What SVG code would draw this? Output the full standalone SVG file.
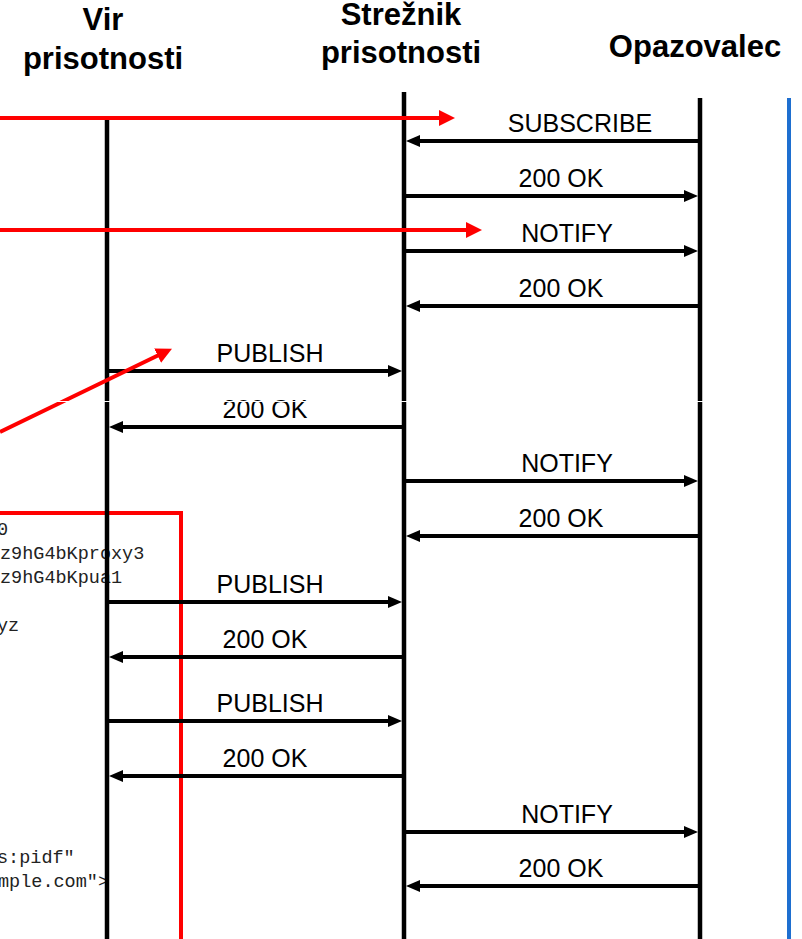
<svg xmlns="http://www.w3.org/2000/svg" width="802" height="939" viewBox="0 0 802 939">
  <style>
    .head { font-family: "Liberation Sans", Arial, sans-serif; font-weight: bold; font-size: 31px; fill: #000; text-anchor: middle; }
    .msg { font-family: "Liberation Sans", Arial, sans-serif; font-size: 25px; fill: #000; text-anchor: middle; }
    .code { font-family: "Liberation Mono", "Courier New", monospace; font-size: 18.5px; fill: #222; }
    .life { stroke: #000; stroke-width: 4.5; fill: none; }
    .arrow { stroke: #000; stroke-width: 4; fill: none; marker-end: url(#ah); }
    .red { stroke: #ff0000; stroke-width: 4; fill: none; }
    .redarrow { stroke: #ff0000; stroke-width: 4; fill: none; marker-end: url(#rh); }
  </style>
  <defs>
    <marker id="ah" viewBox="0 0 14 12" refX="4" refY="6" markerWidth="14" markerHeight="12" markerUnits="userSpaceOnUse" orient="auto">
      <path d="M0,0 L14,6 L0,12 z" fill="#000"/>
    </marker>
    <marker id="rh" viewBox="0 0 16 16" refX="6" refY="8" markerWidth="16" markerHeight="16" markerUnits="userSpaceOnUse" orient="auto">
      <path d="M0,0 L16,8 L0,16 z" fill="#ff0000"/>
    </marker>
  </defs>

  <rect width="802" height="939" fill="#fff"/>

  <!-- request body listing, clipped at the left edge -->
  <g id="listing">
    <polyline class="red" points="0,513 181,513 181,939"/>
    <text class="code" x="-3" y="535">0</text>
    <text class="code" x="0" y="559">z9hG4bKproxy3</text>
    <text class="code" x="0" y="583">z9hG4bKpua1</text>
    <text class="code" x="-3" y="631">yz</text>
    <text class="code" x="-3" y="863">s:pidf"</text>
    <text class="code" x="-2" y="887">mple.com"&gt;</text>
  </g>

  <!-- participants -->
  <g id="vir">
    <text class="head" x="103" y="30">Vir</text>
    <text class="head" x="103" y="69">prisotnosti</text>
    <line class="life" x1="107" y1="119" x2="107" y2="939"/>
  </g>
  <g id="streznik">
    <text class="head" x="401" y="25">Strežnik</text>
    <text class="head" x="401" y="63">prisotnosti</text>
    <line class="life" x1="404" y1="92" x2="404" y2="939"/>
  </g>
  <g id="opazovalec">
    <text class="head" x="695" y="57">Opazovalec</text>
    <line class="life" x1="700" y1="98" x2="700" y2="939"/>
  </g>
  <line x1="789" y1="98" x2="789" y2="939" stroke="#1e6fd0" stroke-width="4"/>

  <!-- messages -->
  <g id="connectors">
    <line class="arrow" x1="700" y1="141" x2="416" y2="141"/>
    <text class="msg" x="580" y="132">SUBSCRIBE</text>
    <line class="arrow" x1="404" y1="196" x2="688" y2="196"/>
    <text class="msg" x="561" y="187">200 OK</text>
    <line class="arrow" x1="404" y1="251" x2="688" y2="251"/>
    <text class="msg" x="567" y="242">NOTIFY</text>
    <line class="arrow" x1="700" y1="306" x2="416" y2="306"/>
    <text class="msg" x="561" y="297">200 OK</text>

    <line class="arrow" x1="107" y1="371" x2="392" y2="371"/>
    <text class="msg" x="270" y="362">PUBLISH</text>
    <line class="arrow" x1="404" y1="427" x2="119" y2="427"/>
    <text class="msg" x="265" y="418">200 OK</text>

    <line class="arrow" x1="404" y1="481" x2="688" y2="481"/>
    <text class="msg" x="567" y="472">NOTIFY</text>
    <line class="arrow" x1="700" y1="536" x2="416" y2="536"/>
    <text class="msg" x="561" y="527">200 OK</text>

    <line class="arrow" x1="107" y1="602" x2="392" y2="602"/>
    <text class="msg" x="270" y="593">PUBLISH</text>
    <line class="arrow" x1="404" y1="657" x2="119" y2="657"/>
    <text class="msg" x="265" y="648">200 OK</text>

    <line class="arrow" x1="107" y1="721" x2="392" y2="721"/>
    <text class="msg" x="270" y="712">PUBLISH</text>
    <line class="arrow" x1="404" y1="776" x2="119" y2="776"/>
    <text class="msg" x="265" y="767">200 OK</text>

    <line class="arrow" x1="404" y1="832" x2="688" y2="832"/>
    <text class="msg" x="567" y="823">NOTIFY</text>
    <line class="arrow" x1="700" y1="886" x2="416" y2="886"/>
    <text class="msg" x="561" y="877">200 OK</text>

    <!-- callout pointers -->
    <line class="redarrow" x1="0" y1="118" x2="445" y2="118"/>
    <line class="redarrow" x1="0" y1="230" x2="472" y2="230"/>
    <line class="redarrow" x1="0" y1="432" x2="163" y2="353"/>
  </g>

  <!-- thin seam across the middle -->
  <line x1="0" y1="401.5" x2="704" y2="401.5" stroke="#fff" stroke-width="1"/>
</svg>
